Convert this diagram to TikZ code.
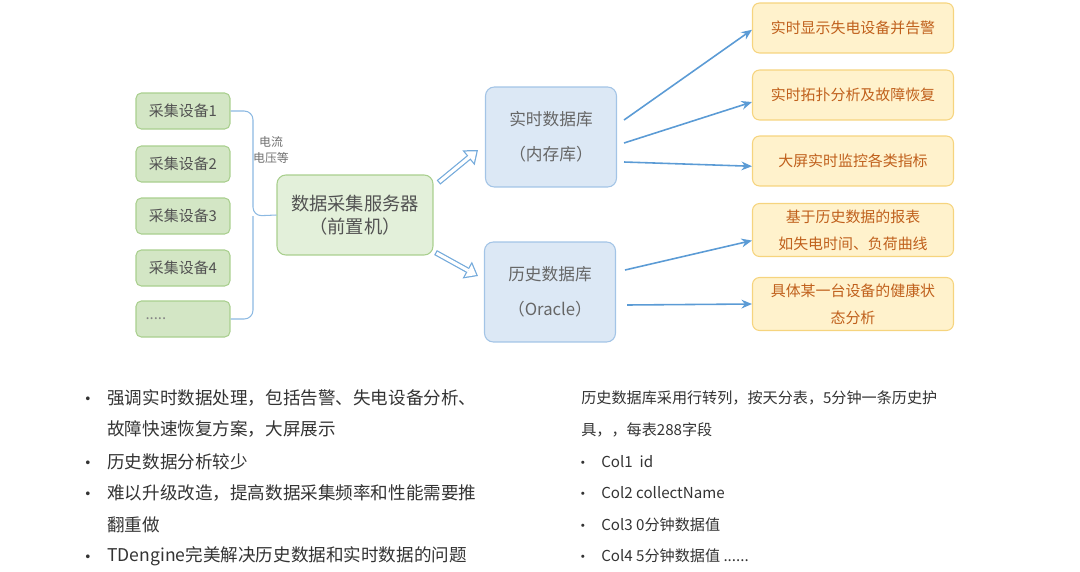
\documentclass[tikz,border=0pt]{standalone}
\usepackage{fontspec}
\setmainfont{Noto Sans CJK SC}
\usetikzlibrary{arrows.meta}
\definecolor{devfill}{HTML}{D3E6C5}
\definecolor{devline}{HTML}{A9CF8E}
\definecolor{srvfill}{HTML}{E3F0DA}
\definecolor{dbfill}{HTML}{DCE8F5}
\definecolor{dbline}{HTML}{A3C4E6}
\definecolor{appfill}{HTML}{FFF2CC}
\definecolor{appline}{HTML}{F6D47E}
\definecolor{apptext}{HTML}{C0601C}
\definecolor{flow}{HTML}{5B9BD5}
\definecolor{ink}{HTML}{333333}
\newcommand{\fs}[1]{\fontsize{#1}{#1}\selectfont}

\begin{document}
\begin{tikzpicture}[x=0.02cm,y=-0.02cm,
  dev/.style={draw=devline,fill=devfill,rounded corners=3pt,line width=0.6pt,
    minimum width=1.88cm,minimum height=0.72cm,text=ink!85,font=\fs{8.5}},
  srv/.style={draw=devline,fill=srvfill,rounded corners=5pt,line width=0.6pt,
    minimum width=3.12cm,minimum height=1.6cm,text=ink!85,align=center,
    font=\fontsize{10.4}{13}\selectfont},
  db/.style={draw=dbline,fill=dbfill,rounded corners=5pt,line width=0.6pt,
    minimum width=2.62cm,minimum height=2cm,text=ink!75,align=center,
    font=\fontsize{9.5}{20}\selectfont},
  app/.style={draw=appline,fill=appfill,rounded corners=4pt,line width=0.6pt,
    minimum width=4.02cm,minimum height=1cm,text=apptext,align=center,
    font=\fontsize{8.5}{15.4}\selectfont},
  link/.style={draw=flow!70,line width=0.6pt,rounded corners=5pt},
  feed/.style={draw=flow,line width=0.9pt,-{Stealth[length=6pt,width=5pt]}},
  pushout/.style={draw=flow!85,line width=3.2pt,
    -{Triangle[length=7pt,width=11pt,line width=0pt]}},
  pushin/.style={draw=white,line width=1.8pt,shorten <=0.7pt,shorten >=1.14pt,
    -{Triangle[length=5.16pt,width=8.1pt,line width=0pt]}},
  txt/.style={anchor=west,inner sep=0pt,text=ink},
  dot/.style={anchor=center,inner sep=0pt,text=ink,yshift=-1.8pt}]
\useasboundingbox (0,0) rectangle (1080,572);
% collectors
\node[dev] (d1) at (183,111) {采集设备1};
\node[dev] (d2) at (183,164) {采集设备2};
\node[dev] (d3) at (183,216) {采集设备3};
\node[dev] (d4) at (183,268) {采集设备4};
\node[dev,text=ink!60] (d5) at (183,319) {\makebox[1.5cm][l]{.....}};
\node[text=ink!70,font=\fontsize{6.8}{8.6}\selectfont,align=center,inner sep=0pt] (lbl) at (271,150) {电流\\电压等};
% server and databases
\node[srv] (srv) at (355,215) {数据采集服务器\\（前置机）};
\node[db] (rt) at (551,137) {实时数据库\\（内存库）};
\node[db] (hs) at (550,292) {历史数据库\\（Oracle）};
% applications
\node[app] (o1) at (853,28) {实时显示失电设备并告警};
\node[app] (o2) at (853,95) {实时拓扑分析及故障恢复};
\node[app] (o3) at (853,161) {大屏实时监控各类指标};
\node[app,minimum height=1.06cm] (o4) at (853,230) {基于历史数据的报表\\如失电时间、负荷曲线};
\node[app,minimum height=1.06cm] (o5) at (853,304) {具体某一台设备的健康状\\态分析};
% brace
\coordinate (bx) at (253,216);
\draw[link] (d1.east) -| (bx) -- (srv.west);
\draw[link] (d5.east) -| (bx);
% flows
\draw[pushout] ([shift={(5,8)}]srv.north east) -- ([shift={(-7,13)}]rt.west);
\draw[pushin] ([shift={(5,8)}]srv.north east) -- ([shift={(-7,13)}]rt.west);
\draw[pushout] ([shift={(2,-3)}]srv.south east) -- ([shift={(-6,-16)}]hs.west);
\draw[pushin] ([shift={(2,-3)}]srv.south east) -- ([shift={(-6,-16)}]hs.west);
\draw[feed] ([shift={(7,-17)}]rt.east) -- ([yshift=-1]o1.west);
\draw[feed] ([shift={(7,6)}]rt.east) -- ([yshift=-4]o2.west);
\draw[feed] ([shift={(7,25)}]rt.east) -- ([yshift=-3]o3.west);
\draw[feed] ([shift={(9,-22)}]hs.east) -- ([yshift=-6]o4.west);
\draw[feed] ([shift={(11,13)}]hs.east) -- (o5.west);
% notes left
\node[dot,font=\fs{10}] (p1) at (88,398) {•};
\node[txt,font=\fs{10}] (t1) at (107,398) {强调实时数据处理，包括告警、失电设备分析、};
\node[txt,font=\fs{10}] (t2) at (107,429) {故障快速恢复方案，大屏展示};
\node[dot,font=\fs{10}] (p2) at (88,462) {•};
\node[txt,font=\fs{10}] (t3) at (107,462) {历史数据分析较少};
\node[dot,font=\fs{10}] (p3) at (88,493) {•};
\node[txt,font=\fs{10}] (t4) at (107,493) {难以升级改造，提高数据采集频率和性能需要推};
\node[txt,font=\fs{10}] (t5) at (107,525) {翻重做};
\node[dot,font=\fs{10}] (p4) at (88,556) {•};
\node[txt,font=\fs{10}] (t6) at (107,556) {TDengine完美解决历史数据和实时数据的问题};
% notes right
\node[txt,font=\fs{8.6}] (r1) at (581,398) {历史数据库采用行转列，按天分表，5分钟一条历史护};
\node[txt,font=\fs{8.6}] (r2) at (581,430) {具，，每表288字段};
\node[dot,font=\fs{8.6}] (q1) at (583,462) {•};
\node[txt,font=\fs{8.6}] (r3) at (601,462) {Col1\ \ id};
\node[dot,font=\fs{8.6}] (q2) at (583,493) {•};
\node[txt,font=\fs{8.6}] (r4) at (601,493) {Col2 collectName};
\node[dot,font=\fs{8.6}] (q3) at (583,525) {•};
\node[txt,font=\fs{8.6}] (r5) at (601,525) {Col3 0分钟数据值};
\node[dot,font=\fs{8.6}] (q4) at (583,556) {•};
\node[txt,font=\fs{8.6}] (r6) at (601,556) {Col4 5分钟数据值 ......};
\end{tikzpicture}
\end{document}
